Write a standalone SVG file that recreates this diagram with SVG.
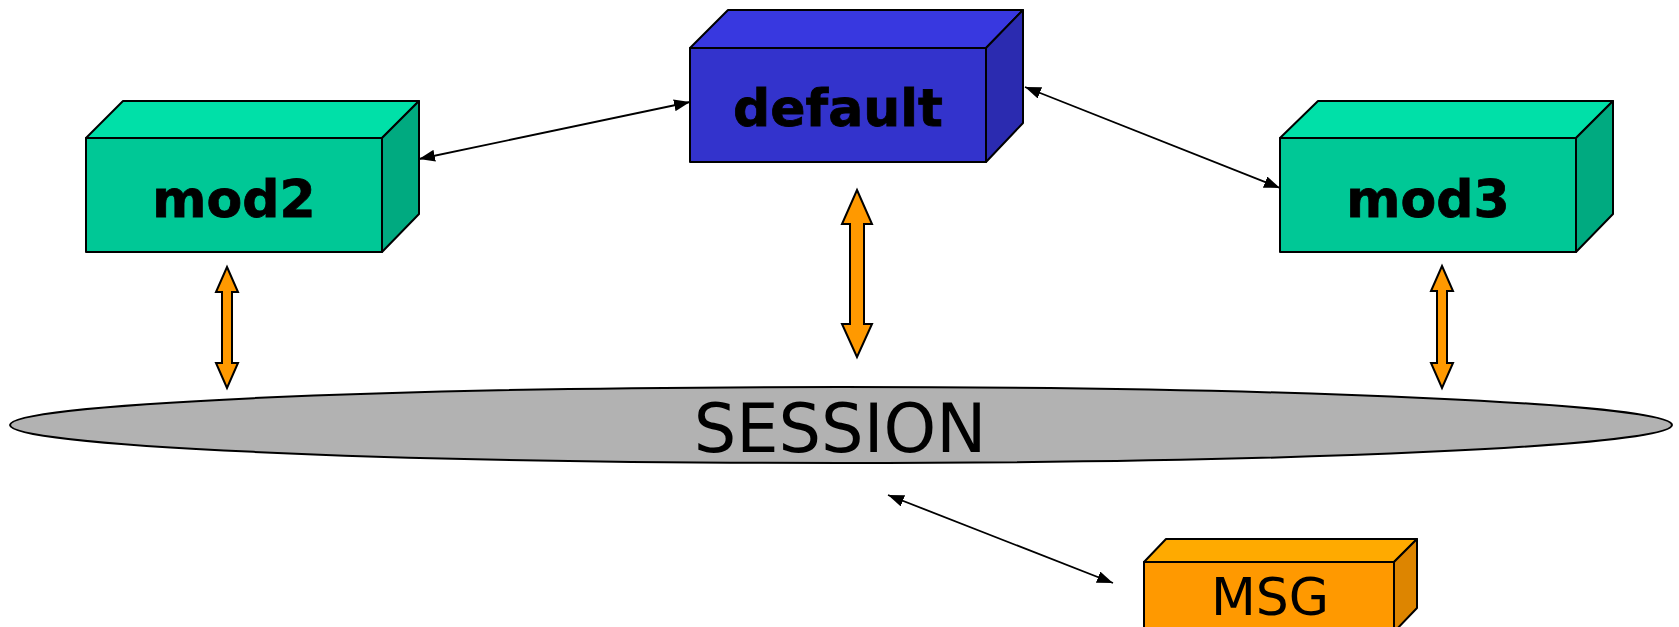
<svg xmlns="http://www.w3.org/2000/svg" width="1679" height="627" viewBox="0 0 1679 627">
<style>
.edge{stroke:#000;stroke-width:1.8;fill:none;marker-start:url(#ah);marker-end:url(#ah)}
.box path,.box rect{stroke:#000;stroke-width:2;stroke-linejoin:round}
.g .f{fill:#00c896}.g .t{fill:#00e0a8}.g .s{fill:#00aa80}
.b .f{fill:#3333cc}.b .t{fill:#3838e0}.b .s{fill:#2b2bb0}
.o .f{fill:#ff9900}.o .t{fill:#ffaa00}.o .s{fill:#dd8500}
.lb{font-family:"DejaVu Sans",Verdana,sans-serif;font-weight:bold;font-size:52px;text-anchor:middle;fill:#000;stroke:#000;stroke-width:0.8}
.lr{font-family:"DejaVu Sans",Verdana,sans-serif;text-anchor:middle;fill:#000}
.oa{fill:#ff9900;stroke:#000;stroke-width:2;stroke-linejoin:miter}
</style>
<defs>
<marker id="ah" viewBox="0 0 16 12" refX="16" refY="6" markerWidth="16" markerHeight="12" markerUnits="userSpaceOnUse" orient="auto-start-reverse">
<path d="M0,0 L16,6 L0,12 Z" fill="#000"/>
</marker>
</defs>
<rect width="1679" height="627" fill="#fff"/>

<g id="session">
<ellipse cx="841" cy="425" rx="831" ry="38" fill="#b2b2b2" stroke="#000" stroke-width="2"/>
<text class="lr" x="840" y="452" font-size="67">SESSION</text>
</g>

<g id="default" class="box b">
<path class="t" d="M690,48 L728,10 L1023,10 L986,48 Z"/>
<path class="s" d="M986,48 L1023,10 L1023,123 L986,162 Z"/>
<rect class="f" x="690" y="48" width="296" height="114"/>
<text class="lb" x="838" y="126">default</text>
</g>

<g id="mod2" class="box g">
<path class="t" d="M86,138 L123,101 L419,101 L382,138 Z"/>
<path class="s" d="M382,138 L419,101 L419,214 L382,252 Z"/>
<rect class="f" x="86" y="138" width="296" height="114"/>
<text class="lb" x="234" y="217">mod2</text>
</g>

<g id="mod3" class="box g">
<path class="t" d="M1280,138 L1318,101 L1613,101 L1576,138 Z"/>
<path class="s" d="M1576,138 L1613,101 L1613,214 L1576,252 Z"/>
<rect class="f" x="1280" y="138" width="296" height="114"/>
<text class="lb" x="1428" y="217">mod3</text>
</g>

<g id="msg" class="box o">
<path class="t" d="M1144,562 L1166,539 L1417,539 L1394,562 Z"/>
<path class="s" d="M1394,562 L1417,539 L1417,608 L1394,632 Z"/>
<rect class="f" x="1144" y="562" width="250" height="70"/>
<text class="lr" x="1270" y="615" font-size="52">MSG</text>
</g>

<g id="connectors">
<line class="edge" x1="419" y1="159" x2="690" y2="102"/>
<line class="edge" x1="1025" y1="87" x2="1280" y2="188"/>
<line class="edge" x1="888" y1="495" x2="1113" y2="583"/>
<path class="oa" d="M857,190 L872,224 L864,224 L864,324 L872,324 L857,357 L842,324 L850,324 L850,224 L842,224 Z"/>
<path class="oa" d="M227,267 L238,292 L232,292 L232,363 L238,363 L227,388 L216,363 L222,363 L222,292 L216,292 Z"/>
<path class="oa" d="M1442,266 L1453,291 L1447,291 L1447,363 L1453,363 L1442,388 L1431,363 L1437,363 L1437,291 L1431,291 Z"/>
</g>
</svg>
